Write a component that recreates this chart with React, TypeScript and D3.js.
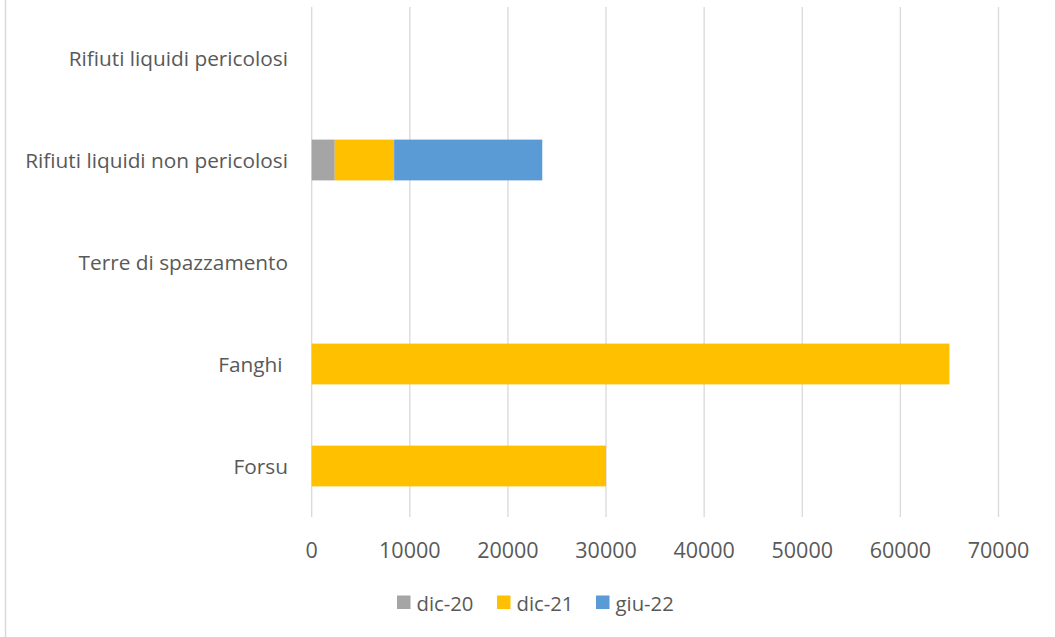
import React from "react";
import * as d3 from "d3";

const categories = [
  "Rifiuti liquidi pericolosi",
  "Rifiuti liquidi non pericolosi",
  "Terre di spazzamento",
  "Fanghi ",
  "Forsu",
];
const seriesNames = ["dic-20", "dic-21", "giu-22"];
const dic20 = [0, 2350, 0, 0, 0];
const dic21 = [0, 6050, 0, 65000, 30000];
const giu22 = [0, 15100, 0, 0, 0];
const seriesColors = ["#A5A5A5", "#FFC000", "#5B9BD5"];
const xTicks = [0, 10000, 20000, 30000, 40000, 50000, 60000, 70000];

const W = 1055;
const H = 637;
const FONT = "'Open Sans', sans-serif";
const TEXT = "#595959";

export default function App() {
  const x = d3.scaleLinear().domain([0, 70000]).range([311.7, 998.5]);
  const y = d3.scaleBand<string>().domain(categories).range([7, 517]).paddingInner(0.6).paddingOuter(0.3);

  const rows = categories.map((c, i) => ({
    cat: c,
    "dic-20": dic20[i],
    "dic-21": dic21[i],
    "giu-22": giu22[i],
  }));
  const stack = d3.stack<any>().keys(seriesNames)(rows);

  const legendX = [397, 497, 596];

  return (
    <svg width={W} height={H} style={{ position: "absolute", left: 0, top: 0, background: "#fff" }}>
      <rect x={0} y={0} width={W} height={H} fill="#fff" />
      <line x1={5.5} x2={5.5} y1={0} y2={H} stroke="#d9d9d9" strokeWidth={1.5} />
      {xTicks.map((t) => (
        <line key={t} x1={x(t)} x2={x(t)} y1={7} y2={517} stroke="#d9d9d9" strokeWidth={1.3} />
      ))}
      {stack.map((s, si) =>
        s.map((d, i) => {
          const w = x(d[1]) - x(d[0]);
          if (w <= 0) return null;
          return (
            <rect
              key={si + "-" + i}
              x={x(d[0])}
              y={y(categories[i])!}
              width={w}
              height={y.bandwidth()}
              fill={seriesColors[si]}
            />
          );
        })
      )}
      {categories.map((c) => (
        <text
          key={c}
          x={288}
          y={y(c)! + y.bandwidth() / 2}
          textAnchor="end"
          dominantBaseline="central"
          fontFamily={FONT}
          fontSize={20.8}
          fill={TEXT}
          style={{ whiteSpace: "pre" }}
        >
          {c}
        </text>
      ))}
      {xTicks.map((t) => (
        <text
          key={t}
          x={x(t)}
          y={549}
          textAnchor="middle"
          dominantBaseline="central"
          fontFamily={FONT}
          fontSize={21.5}
          fill={TEXT}
        >
          {t}
        </text>
      ))}
      {seriesNames.map((n, i) => (
        <g key={n}>
          <rect x={legendX[i]} y={595.5} width={13.5} height={13.5} fill={seriesColors[i]} />
          <text
            x={legendX[i] + 19.5}
            y={602.5}
            dominantBaseline="central"
            fontFamily={FONT}
            fontSize={20.3}
            fill={TEXT}
          >
            {n}
          </text>
        </g>
      ))}
    </svg>
  );
}
